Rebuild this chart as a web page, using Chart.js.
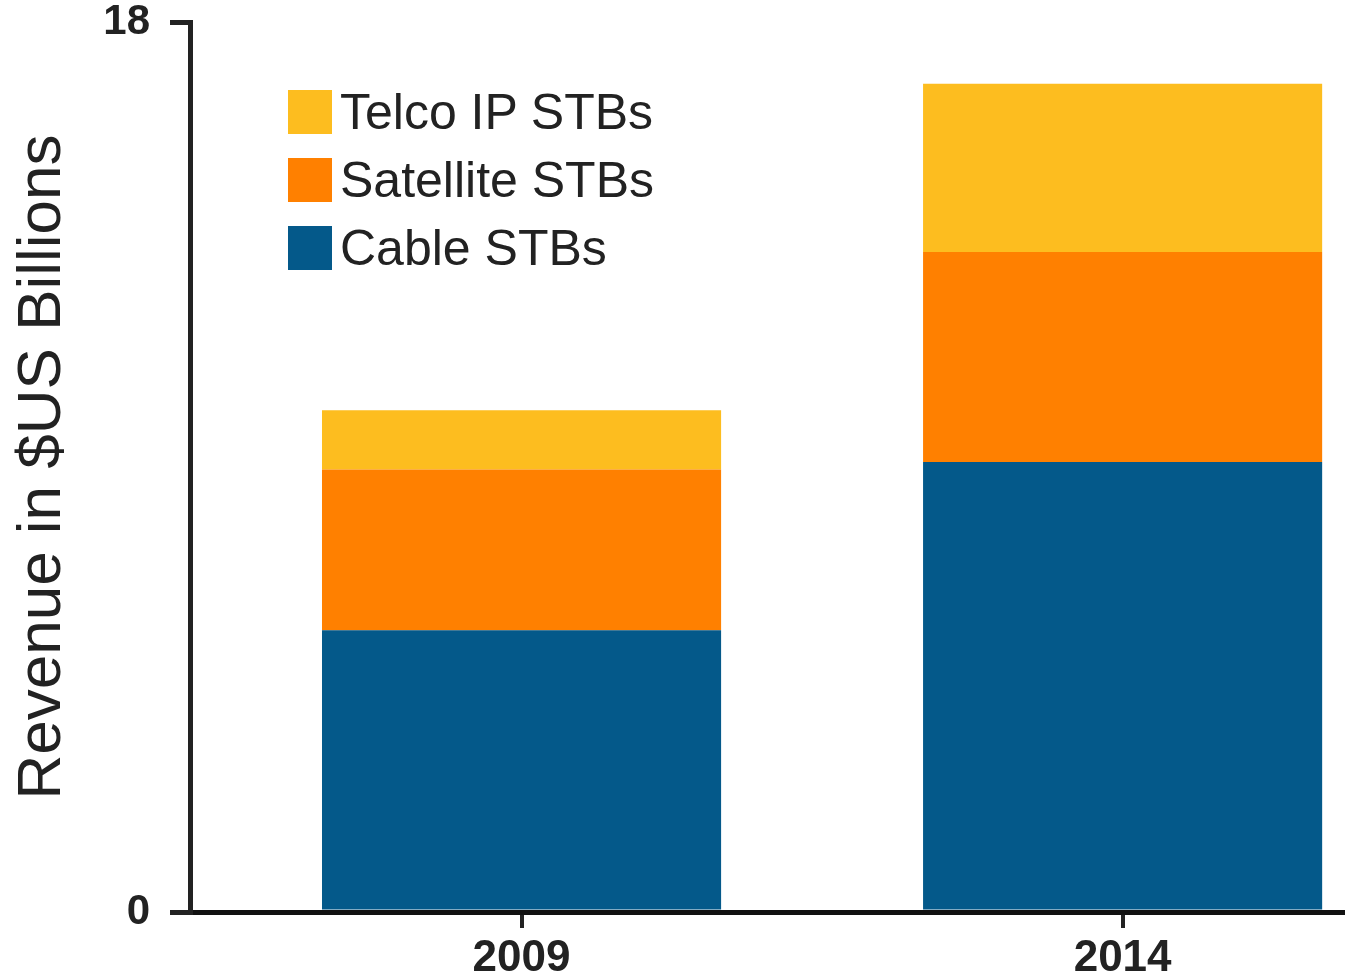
<!DOCTYPE html>
<html>
<head>
<meta charset="utf-8">
<title>STB Revenue</title>
<script src="https://cdn.jsdelivr.net/npm/chart.js@4/dist/chart.umd.min.js"></script>
<style>
    body { margin: 0; background: #fff; font-family: "Liberation Sans", Arial, sans-serif; }
    #wrap { position: relative; width: 1345px; height: 977px; overflow: hidden; }
    #legend { position: absolute; left: 288px; top: 78px; }
    .item { display: flex; align-items: center; height: 68px; }
    .box { width: 44px; height: 44px; margin-right: 8px; }
    .label { font-size: 50px; line-height: 1; color: #222; }
</style>
</head>
<body>
<div id="wrap">
    <canvas id="barChart"></canvas>
    <div id="legend"></div>
</div>
<script>
var years = ['2009', '2014'];
var cableValues = [5.7, 9.1];
var satelliteValues = [3.25, 4.25];
var telcoValues = [1.2, 3.4];
var yTicks = [0, 18];

var seriesNames = ['Cable STBs', 'Satellite STBs', 'Telco IP STBs'];
var seriesColors = ['#04598a', '#ff8000', '#fdbd1f'];
var seriesValues = [cableValues, satelliteValues, telcoValues];

var fontFamily = '"Liberation Sans", Arial, sans-serif';

function buildDatasets(){
    var sets = [];
    for(i = 0; i < seriesNames.length; i++){
        var vals = seriesValues[i];
        sets.push({
            label: seriesNames[i],
            data: years.map(function(y, j){ return {x: j, y: vals[j]}; }),
            backgroundColor: seriesColors[i],
            borderWidth: 0,
            stack: 'total',
            categoryPercentage: 1,
            barPercentage: 0.664
        });
    }
    return sets;
}

function drawLegend(){
    var html = '';
    // legend lists the top segment first
    for(i = seriesNames.length - 1; i >= 0; i--){
        html += '<div class="item"><div class="box" style="background:' + seriesColors[i] + '"></div>'
              + '<span class="label">' + seriesNames[i] + '</span></div>';
    }
    document.getElementById('legend').innerHTML = html;
}

function drawBarChart(){
    var ctx = document.getElementById('barChart').getContext('2d');
    new Chart(ctx, {
        type: 'bar',
        data: { datasets: buildDatasets() },
        options: {
            responsive: true,
            maintainAspectRatio: false,
            animation: false,
            layout: { padding: { left: 0, right: 0, top: 22, bottom: 0 } },
            plugins: {
                legend: { display: false },
                tooltip: { enabled: false }
            },
            scales: {
                x: {
                    type: 'linear',
                    offset: false,
                    min: -0.5516,
                    max: 1.37,
                    afterBuildTicks: function(scale){
                        scale.ticks = years.map(function(y, j){ return {value: j}; });
                    },
                    afterFit: function(scale){ scale.height = 65; },
                    ticks: {
                        callback: function(value, index){ return years[index]; },
                        color: '#222',
                        padding: 9,
                        maxRotation: 0,
                        font: { family: fontFamily, size: 44, weight: 'bold', lineHeight: 1 }
                    },
                    grid: {
                        offset: false,
                        drawOnChartArea: false,
                        tickLength: 16,
                        lineWidth: 4,
                        color: '#222'
                    },
                    border: { display: true, color: '#111', width: 5 }
                },
                y: {
                    stacked: true,
                    min: 0,
                    max: 18,
                    afterBuildTicks: function(scale){
                        scale.ticks = yTicks.map(function(v){ return {value: v}; });
                    },
                    afterFit: function(scale){
                        scale.width = 190;
                        scale.paddingTop = 0;
                    },
                    ticks: {
                        color: '#222',
                        padding: 20,
                        font: { family: fontFamily, size: 42, weight: 'bold', lineHeight: 1 }
                    },
                    grid: {
                        drawOnChartArea: false,
                        tickLength: 20,
                        lineWidth: 5,
                        color: '#222'
                    },
                    border: { display: true, color: '#222', width: 5 },
                    title: {
                        display: true,
                        text: 'Revenue in $US Billions',
                        color: '#222',
                        padding: { top: 6, bottom: 0 },
                        font: { family: fontFamily, size: 62, weight: 'normal' }
                    }
                }
            }
        }
    });
}

drawLegend();
drawBarChart();
</script>
</body>
</html>
